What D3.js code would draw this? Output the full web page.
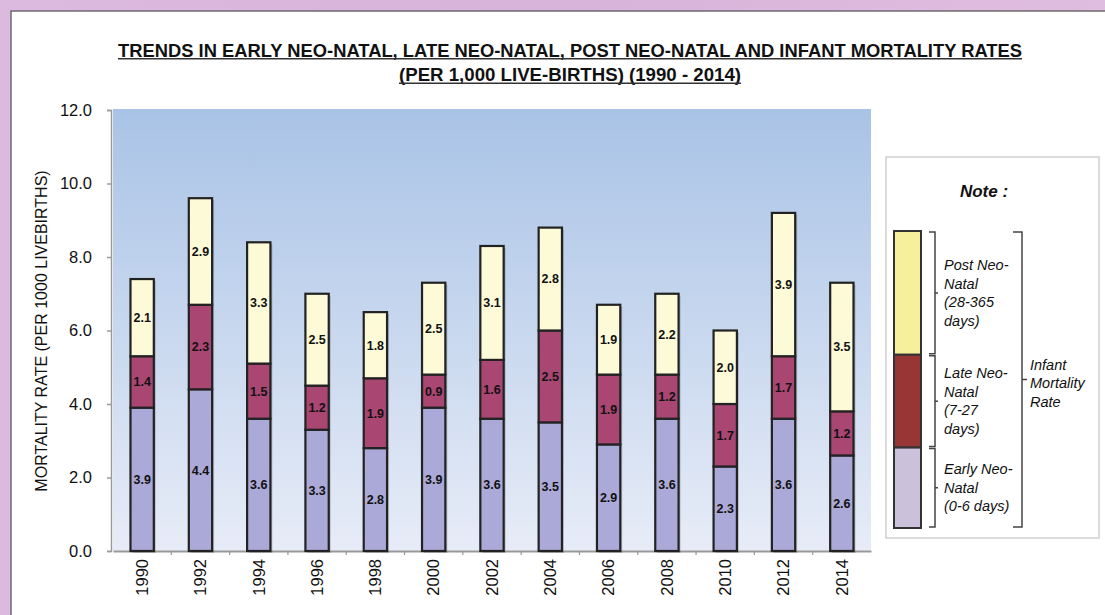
<!DOCTYPE html>
<html><head><meta charset="utf-8">
<script src="https://cdn.jsdelivr.net/npm/d3@7"></script>
<style>
html,body{margin:0;padding:0;background:#fff;}
svg{display:block;font-family:"Liberation Sans",Arial,Helvetica,sans-serif;}
</style></head>
<body>
<svg id="chart" width="1105" height="615"></svg>
<script>
const years = ["1990","1992","1994","1996","1998","2000","2002","2004","2006","2008","2010","2012","2014"];
const early = [3.9,4.4,3.6,3.3,2.8,3.9,3.6,3.5,2.9,3.6,2.3,3.6,2.6];
const late  = [1.4,2.3,1.5,1.2,1.9,0.9,1.6,2.5,1.9,1.2,1.7,1.7,1.2];
const post  = [2.1,2.9,3.3,2.5,1.8,2.5,3.1,2.8,1.9,2.2,2.0,3.9,3.5];
const seriesKeys = ["early","late","post"];
const yTicks = [0,2,4,6,8,10,12];
const titleLines = ["TRENDS IN EARLY NEO-NATAL, LATE NEO-NATAL, POST NEO-NATAL AND INFANT MORTALITY RATES",
                    "(PER 1,000 LIVE-BIRTHS) (1990 - 2014)"];
const yTitle = "MORTALITY RATE (PER 1000 LIVEBIRTHS)";
const legendItems = [
  {key:"post", lines:["Post Neo-","Natal","(28-365","days)"]},
  {key:"late", lines:["Late Neo-","Natal","(7-27","days)"]},
  {key:"early", lines:["Early Neo-","Natal","(0-6 days)"]}
];
const legendShares = {post:4, late:3, early:2.6};
const legendTitle = "Note :";
const groupLabel = ["Infant","Mortality","Rate"];

const barColors = {early:"#aba9d7", late:"#a94672", post:"#fdfad8"};
const legendColors = {early:"#cbc1db", late:"#983535", post:"#f6f09c"};

const svg = d3.select("#chart");
const defs = svg.append("defs");

// page background (purple)
const bgGrad = defs.append("linearGradient").attr("id","bgp").attr("x1",0).attr("x2",1).attr("y1",0).attr("y2",0);
bgGrad.append("stop").attr("offset","0%").attr("stop-color","#dcb9df");
bgGrad.append("stop").attr("offset","50%").attr("stop-color","#d8b3da");
bgGrad.append("stop").attr("offset","100%").attr("stop-color","#dfbde0");
svg.append("rect").attr("width",1105).attr("height",615).attr("fill","url(#bgp)");
// white panel
svg.append("rect").attr("x",11).attr("y",11).attr("width",1100).attr("height",610)
  .attr("fill","#fff").attr("stroke","#6e6a70").attr("stroke-width",1.5);

// plot area gradient
const pg = defs.append("linearGradient").attr("id","plotg").attr("x1",0).attr("x2",0).attr("y1",0).attr("y2",1);
pg.append("stop").attr("offset","0%").attr("stop-color","#a9c3e6");
pg.append("stop").attr("offset","100%").attr("stop-color","#e7ecf7");

const x = d3.scaleBand().domain(years).range([113,871]).paddingInner(0.6).paddingOuter(0.3);
const y = d3.scaleLinear().domain([0,12]).range([551,110]);

svg.append("rect").attr("x",113).attr("y",y(12)-1).attr("width",871-113).attr("height",y(0)-y(12)+1)
  .attr("fill","url(#plotg)");

// Title
titleLines.forEach((t,i)=>{
  const by = 56.5 + i*24.5;
  const tx = svg.append("text").attr("x",570).attr("y",by).attr("text-anchor","middle")
    .attr("font-size",18).attr("font-weight","bold").attr("fill","#111").text(t);
  const targetW = i===0 ? 904 : 342;
  tx.attr("textLength",targetW).attr("lengthAdjust","spacingAndGlyphs");
  svg.append("line").attr("x1",570-targetW/2).attr("x2",570+targetW/2)
    .attr("y1",by+2.2).attr("y2",by+2.2).attr("stroke","#333").attr("stroke-width",1.4);
});

// y axis
const yAxis = d3.axisLeft(y).tickValues(yTicks).tickFormat(d3.format(".1f")).tickSize(4).tickPadding(15);
const gy = svg.append("g").attr("transform","translate(111,0)").call(yAxis);
gy.select(".domain").attr("stroke","#9a9a9a").attr("stroke-width",1.5);
gy.selectAll(".tick line").attr("stroke","#9a9a9a").attr("stroke-width",1.5);
gy.selectAll(".tick text").attr("font-size",16.5).attr("fill","#111")
  .attr("font-family","'Liberation Sans',Arial,sans-serif");

svg.append("text").attr("transform","translate(47,331) rotate(-90)").attr("text-anchor","middle")
  .attr("font-size",16).attr("fill","#111").text(yTitle);

// stacked data
const table = years.map((yr,i)=>({year:yr, early:early[i], late:late[i], post:post[i]}));
const stack = d3.stack().keys(seriesKeys)(table);

// x axis
const gx = svg.append("g").attr("transform",`translate(0,${y(0)})`)
  .call(d3.axisBottom(x).tickSize(0).tickPadding(0));
gx.select(".domain").attr("stroke","#9a9a9a").attr("stroke-width",2);
gx.selectAll(".tick text").attr("font-size",16.5).attr("fill","#111")
  .attr("font-family","'Liberation Sans',Arial,sans-serif")
  .attr("transform","rotate(-90)").attr("text-anchor","end").attr("dx","-8").attr("dy","0.35em");
// small ticks between bands
const step = x.step();
const bounds = years.slice(0,-1).map(yr=>x(yr)+x.bandwidth()+(step-x.bandwidth())/2);
svg.append("g").selectAll("line").data(bounds).join("line")
  .attr("x1",d=>d).attr("x2",d=>d).attr("y1",y(0)).attr("y2",y(0)+4)
  .attr("stroke","#9a9a9a").attr("stroke-width",1.2);

// bars
const barsG = svg.append("g");
barsG.selectAll("rect.shadow").data(table).join("rect").attr("class","shadow")
  .attr("x",d=>x(d.year)+2).attr("y",d=>y(d.early+d.late+d.post)+2)
  .attr("width",x.bandwidth()).attr("height",d=>y(0)-y(d.early+d.late+d.post))
  .attr("fill","rgba(0,0,0,0.18)");
stack.forEach(layer=>{
  barsG.append("g").selectAll("rect").data(layer).join("rect")
    .attr("x",d=>x(d.data.year)).attr("y",d=>y(d[1]))
    .attr("width",x.bandwidth()).attr("height",d=>y(d[0])-y(d[1]))
    .attr("fill",barColors[layer.key]).attr("stroke","#222").attr("stroke-width",2.2);
});
stack.forEach(layer=>{
  barsG.append("g").selectAll("text").data(layer).join("text")
    .attr("x",d=>x(d.data.year)+x.bandwidth()/2).attr("y",d=>(y(d[0])+y(d[1]))/2)
    .attr("dy","0.35em").attr("text-anchor","middle").attr("font-size",12.5).attr("font-weight","bold")
    .attr("fill","#111").text(d=>d3.format(".1f")(d[1]-d[0]));
});

// Legend
const lg = svg.append("g");
lg.append("rect").attr("x",886).attr("y",157).attr("width",213).attr("height",381)
  .attr("fill","#fff").attr("stroke","#cfcfcf").attr("stroke-width",1.5);
lg.append("text").attr("x",984).attr("y",197).attr("text-anchor","middle").attr("font-size",17)
  .attr("font-weight","bold").attr("font-style","italic").attr("fill","#111").text(legendTitle);

const totalShare = legendItems.reduce((s,it)=>s+legendShares[it.key],0);
const ly = d3.scaleLinear().domain([0,totalShare]).range([231,528]);
let acc = 0;
legendItems.forEach(it=>{
  const y0 = ly(acc), y1 = ly(acc+legendShares[it.key]);
  acc += legendShares[it.key];
  lg.append("rect").attr("x",894).attr("y",y0).attr("width",27).attr("height",y1-y0)
    .attr("fill",legendColors[it.key]).attr("stroke","#333").attr("stroke-width",2);
  const mid = (y0+y1)/2;
  lg.append("path").attr("d",`M929,${y0+1}H935V${y1-1}H929M935,${mid}H938`)
    .attr("fill","none").attr("stroke","#444").attr("stroke-width",1.5);
  const startY = mid - (it.lines.length-1)*18.5/2 + 5;
  it.lines.forEach((ln,j)=>{
    lg.append("text").attr("x",944).attr("y",startY+j*18.5).attr("font-size",14.5)
      .attr("font-style","italic").attr("fill","#111").text(ln);
  });
});
const gMid = (ly(0)+ly(totalShare))/2;
lg.append("path").attr("d",`M1013,${ly(0)+1}H1022V${ly(totalShare)-1}H1013M1022,${gMid}H1027`)
  .attr("fill","none").attr("stroke","#444").attr("stroke-width",1.5);
groupLabel.forEach((ln,j)=>{
  lg.append("text").attr("x",1030).attr("y",gMid-10+j*18.5).attr("font-size",14.5)
    .attr("font-style","italic").attr("fill","#111").text(ln);
});
</script>
</body></html>
